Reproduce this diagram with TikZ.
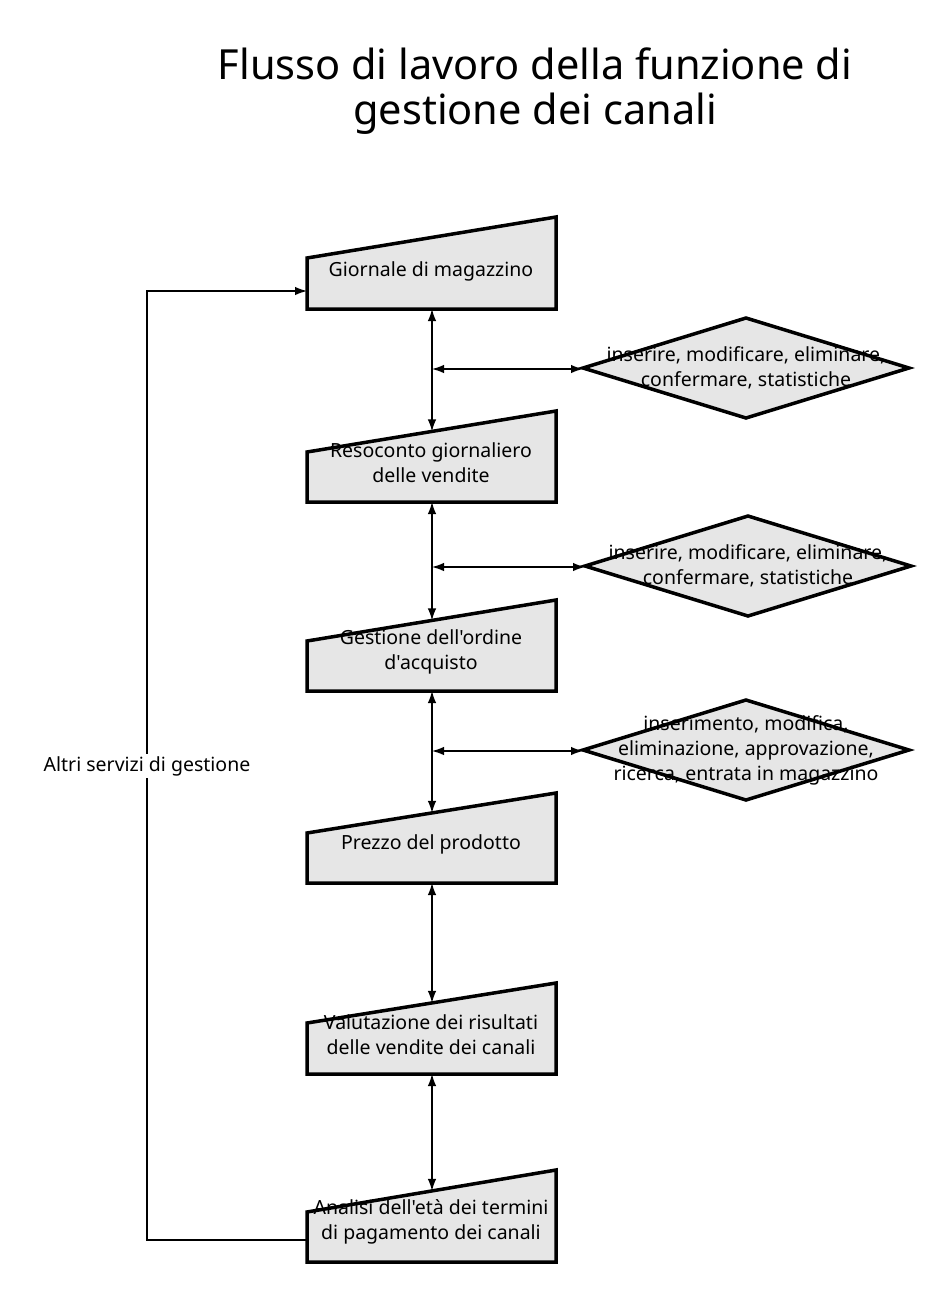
\documentclass[tikz,border=0pt]{standalone}
\usepackage{fontspec}
\setmainfont{Noto Sans}[Ligatures=TeXOff]
\usetikzlibrary{arrows.meta}
\definecolor{boxgray}{HTML}{E6E6E6}
\newcommand\manbox[5]{%
  \draw[box] (307,#3) -- (556,#2) -- (556,#4) -- (307,#4) -- cycle;
  \coordinate (#1-b) at (432,#4);
  \coordinate (#1-t) at (432,{#3-(125/249)*(#3-#2)});
  \node[lbl] (#1) at (431,#5) {};
}
\newcommand\mydiamond[4]{%
  \draw[box] (#2-163,#3) -- (#2,#3-50) -- (#2+163,#3) -- (#2,#3+50) -- cycle;
  \coordinate (#1-l) at (#2-163,#3);
  \node[lbl] (#1) at (#2,#3) {#4};
}
\tikzset{
  box/.style={draw=black, line width=3.5pt, fill=boxgray, line join=miter},
  lbl/.style={font=\fontsize{19.5}{25}\selectfont, align=center, inner sep=0pt},
  conn/.style={line width=1.3pt, -{Latex[length=12pt,width=8.5pt]}},
  dconn/.style={line width=1.3pt, {Latex[length=12pt,width=8.5pt]}-{Latex[length=12pt,width=8.5pt]}},
}
\begin{document}
\begin{tikzpicture}[x=1pt,y=-1pt]
\useasboundingbox (0,0) rectangle (948,1299);
\node[font=\fontsize{41.5}{45}\selectfont, align=center] (title) at (535,91) {Flusso di lavoro della funzione di\\gestione dei canali};
% boxes
\manbox{b1}{217}{258}{309}{271}
\node[lbl] at (b1) {Giornale di magazzino};
\manbox{b2}{411}{452}{502}{463}
\node[lbl] at (b2) {Resoconto giornaliero\\delle vendite};
\manbox{b3}{600}{641}{691}{652}
\node[lbl] at (b3) {Gestione dell'ordine\\d'acquisto};
\manbox{b4}{793}{833}{883}{844}
\node[lbl] at (b4) {Prezzo del prodotto};
\manbox{b5}{983}{1023}{1074}{1035}
\node[lbl] at (b5) {Valutazione dei risultati\\delle vendite dei canali};
\manbox{b6}{1170}{1212}{1262}{1222}
\node[lbl] at (b6) {Analisi dell'età dei termini\\di pagamento dei canali};
% diamonds
\mydiamond{d1}{746}{368}{inserire, modificare, eliminare,\\confermare, statistiche}
\mydiamond{d2}{748}{566}{inserire, modificare, eliminare,\\confermare, statistiche}
\mydiamond{d3}{746}{750}{inserimento, modifica,\\eliminazione, approvazione,\\ricerca, entrata in magazzino}
% vertical connectors
\draw[dconn] (b1-b) -- (b2-t);
\draw[dconn] (b2-b) -- (b3-t);
\draw[dconn] (b3-b) -- (b4-t);
\draw[dconn] (b4-b) -- (b5-t);
\draw[dconn] (b5-b) -- (b6-t);
% horizontal connectors
\coordinate (h1) at (432,369);
\coordinate (h2) at (432,567);
\coordinate (h3) at (432,751);
\draw[dconn] (h1) -- (d1-l |- h1);
\draw[dconn] (h2) -- (d2-l |- h2);
\draw[dconn] (h3) -- (d3-l |- h3);
% loop
\coordinate (b6-l) at (307,1240);
\coordinate (b1-l) at (307,291);
\coordinate (lp1) at (147,1240);
\coordinate (lp2) at (147,291);
\draw[conn] (b6-l) -- (lp1) -- (lp2) -- (b1-l);
\node[lbl, fill=white, inner sep=2pt] (loop) at (147,766) {Altri servizi di gestione};
\end{tikzpicture}
\end{document}
